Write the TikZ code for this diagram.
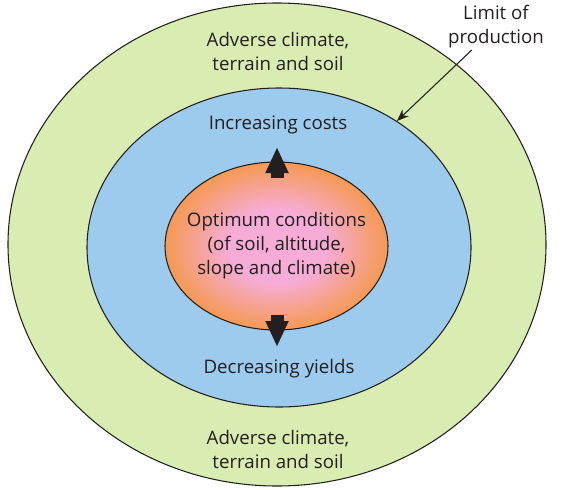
\documentclass[tikz,border=0pt]{standalone}
\usepackage{fontspec}
\setmainfont{Open Sans}
\usepackage{tikz}
\usetikzlibrary{arrows.meta,shapes.geometric}
\definecolor{outergreen}{RGB}{217,237,178}
\definecolor{midblue}{RGB}{157,203,237}
\definecolor{optorange}{RGB}{246,153,82}
\definecolor{optpink}{RGB}{246,172,214}
\definecolor{inkgray}{RGB}{35,31,32}
\pgfdeclareradialshading{optshade}{\pgfpoint{0bp}{0bp}}{color(0bp)=(optpink); color(11bp)=(optpink); color(25bp)=(optorange); color(50bp)=(optorange)}

\begin{document}
\begin{tikzpicture}[x=0.75pt, y=-0.75pt, >=Stealth,
  every node/.style={font=\fontsize{14}{18}\selectfont, text=inkgray, align=center},
  zone/.style={draw=inkgray, line width=0.8pt, ellipse, inner sep=0pt}]
\useasboundingbox (0,0) rectangle (570,489);
\node[zone, fill=outergreen, minimum width=403.5pt, minimum height=362.25pt] (outer) at (277,244.5) {};
\node[zone, fill=midblue, minimum width=288pt, minimum height=239.25pt] (mid) at (279,247.5) {};
\node[zone, shading=optshade, minimum width=167.25pt, minimum height=126pt] (opt) at (276.5,246) {};
\node (opttext) at (opt) {Optimum conditions\\(of soil, altitude,\\slope and climate)};
\node (advtop) at (278,51) {Adverse climate,\\terrain and soil};
\node (advbot) at (278,449) {Adverse climate,\\terrain and soil};
\node (costs) at (278,125) {Increasing costs};
\node (yields) at (279,369) {Decreasing yields};
\node[inner sep=1pt] (limit) at (496,27) {Limit of\\production};
\coordinate (upfoot) at (277,178);
\coordinate (uptip) at (277,147);
\coordinate (downfoot) at (277,315);
\coordinate (downtip) at (277,347);
% thick arrows out of the optimum
\draw[inkgray, line width=9.75pt, -{Triangle[length=19.5pt,width=16pt]}] (upfoot) -- (uptip);
\draw[inkgray, line width=9.75pt, -{Triangle[length=19.5pt,width=16pt]}] (downfoot) -- (downtip);
\draw[inkgray, line width=0.8pt, -{Stealth[length=9pt,width=7pt]}] (limit) -- (mid.47);
\end{tikzpicture}
\end{document}
